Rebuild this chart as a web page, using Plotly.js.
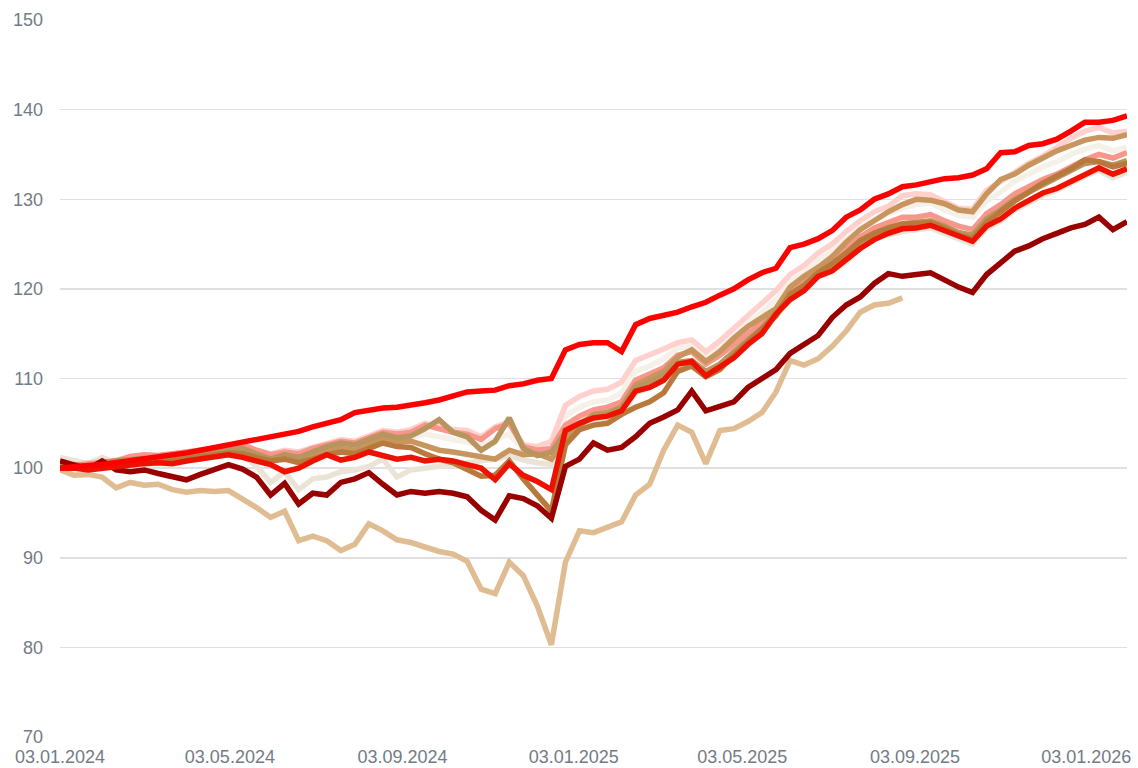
<!DOCTYPE html>
<html>
<head>
<meta charset="utf-8">
<script src="https://cdn.plot.ly/plotly-3.0.1.min.js"></script>
<style>
  html, body { margin: 0; padding: 0; background: #ffffff; }
  #chart { width: 1138px; height: 768px; }
</style>
</head>
<body>
<div id="chart"></div>
<script>
// Dates (10-day sampling)
const dates = [
  "2024-01-03","2024-01-13","2024-01-23","2024-02-02","2024-02-12","2024-02-22","2024-03-03","2024-03-13","2024-03-23","2024-04-02",
  "2024-04-12","2024-04-22","2024-05-02","2024-05-12","2024-05-22","2024-06-01","2024-06-11","2024-06-21","2024-07-01","2024-07-11",
  "2024-07-21","2024-07-31","2024-08-10","2024-08-20","2024-08-30","2024-09-09","2024-09-19","2024-09-29","2024-10-09","2024-10-19",
  "2024-10-29","2024-11-08","2024-11-18","2024-11-28","2024-12-08","2024-12-18","2024-12-28","2025-01-07","2025-01-17","2025-01-27",
  "2025-02-06","2025-02-16","2025-02-26","2025-03-08","2025-03-18","2025-03-28","2025-04-07","2025-04-17","2025-04-27","2025-05-07",
  "2025-05-17","2025-05-27","2025-06-06","2025-06-16","2025-06-26","2025-07-06","2025-07-16","2025-07-26","2025-08-05","2025-08-15",
  "2025-08-25","2025-09-04","2025-09-14","2025-09-24","2025-10-04","2025-10-14","2025-10-24","2025-11-03","2025-11-13","2025-11-23",
  "2025-12-03","2025-12-13","2025-12-23","2026-01-02","2026-01-12","2026-01-22","2026-02-01"
];

const redTop = [
  100.0,100.2,100.3,100.4,100.6,100.8,101.0,101.2,101.4,101.7,
  102.0,102.3,102.7,103.0,103.2,103.5,103.8,104.1,104.6,105.0,
  105.4,106.2,106.5,106.7,106.8,107.0,107.3,107.6,108.0,108.5,
  108.6,108.7,109.2,109.4,109.8,110.0,113.2,113.8,114.0,114.0,
  113.0,116.0,116.7,117.0,117.4,118.0,118.5,119.3,120.0,121.0,
  121.8,122.3,124.6,125.0,125.6,126.5,128.0,128.8,130.0,130.6,
  131.4,131.6,132.0,132.3,132.4,132.7,133.4,135.2,135.3,136.0,
  136.2,136.7,137.6,138.6,138.6,138.8,139.3
];

const redMain = [
  100.0,100.0,99.8,100.0,100.2,100.4,100.5,100.6,100.5,100.8,
  101.0,101.3,101.5,101.2,100.8,100.4,99.6,100.0,100.8,101.5,
  100.9,101.2,101.8,101.4,101.0,101.2,100.8,101.0,100.8,100.4,
  100.0,98.7,100.5,99.2,98.5,97.6,104.2,105.0,105.6,105.8,
  106.4,108.6,109.0,109.8,111.6,111.9,110.3,111.3,112.3,113.8,
  115.0,117.2,118.8,119.8,121.4,122.0,123.2,124.5,125.5,126.2,
  126.7,126.8,127.1,126.5,125.8,125.3,127.0,127.8,129.0,129.8,
  130.7,131.2,132.0,132.8,133.5,132.8,133.4
];

const maroon = [
  100.8,100.4,99.9,100.8,99.8,99.6,99.8,99.4,99.0,98.7,
  99.3,99.9,100.4,99.9,99.0,97.0,98.3,96.0,97.2,97.0,
  98.4,98.8,99.5,98.2,97.0,97.4,97.2,97.4,97.2,96.8,
  95.3,94.2,96.9,96.6,95.8,94.4,100.2,101.0,102.8,102.0,
  102.3,103.5,105.0,105.7,106.5,108.6,106.4,106.9,107.4,109.0,
  110.0,111.0,112.8,113.8,114.8,116.8,118.2,119.1,120.6,121.7,
  121.4,121.6,121.8,121.0,120.2,119.6,121.6,122.9,124.2,124.8,
  125.6,126.2,126.8,127.2,128.0,126.6,127.5
];

const tan = [
  99.8,99.2,99.3,99.0,97.8,98.4,98.1,98.2,97.6,97.3,
  97.5,97.4,97.5,96.6,95.6,94.5,95.2,91.9,92.4,91.9,
  90.8,91.5,93.8,93.0,92.0,91.7,91.2,90.7,90.4,89.6,
  86.5,86.0,89.5,88.0,84.6,80.3,89.5,93.0,92.8,93.4,
  94.0,97.0,98.2,102.0,104.8,104.0,100.5,104.2,104.4,105.2,
  106.2,108.5,112.0,111.5,112.2,113.6,115.3,117.4,118.2,118.4,
  119.0
];

const pink = [
  100.5,100.4,100.6,100.8,100.8,101.2,101.4,101.3,101.5,101.7,
  101.8,102.0,102.3,102.5,102.0,101.6,102.0,101.8,102.3,102.8,
  103.2,103.0,103.6,104.2,104.0,104.3,105.0,104.6,104.3,104.2,
  103.5,104.6,105.2,102.6,102.4,103.0,107.0,108.0,108.6,108.8,
  109.6,112.0,112.6,113.3,114.0,114.3,113.0,114.2,115.6,117.0,
  118.2,119.8,121.6,122.6,124.0,125.0,126.4,127.6,128.6,129.2,
  130.4,130.6,130.5,129.8,129.0,128.9,131.0,132.0,133.0,134.0,
  134.8,135.8,136.8,137.6,138.0,137.4,137.6
];

const veryLight = [
  100.3,100.5,100.4,100.7,100.9,101.0,101.2,101.1,101.3,101.5,
  101.6,101.8,102.0,102.1,101.7,101.2,101.5,101.2,101.8,102.3,
  102.6,102.5,103.0,103.4,103.2,103.4,103.8,103.5,103.2,103.0,
  102.6,103.2,103.8,102.0,101.8,102.2,105.8,106.8,107.4,107.6,
  108.4,110.8,111.4,112.2,113.4,113.6,112.4,113.6,114.8,116.2,
  117.4,118.8,120.8,121.8,123.2,124.2,125.6,126.8,127.8,128.4,
  129.0,129.4,129.6,128.8,128.2,128.0,129.8,130.8,132.0,132.8,
  133.6,134.2,135.0,135.6,136.0,135.4,135.8
];

const salmon = [
  100.4,100.3,100.5,100.7,100.8,101.3,101.5,101.4,101.6,101.8,
  101.9,102.1,102.4,102.6,102.0,101.5,101.8,101.6,102.2,102.6,
  103.0,102.8,103.4,104.0,103.8,104.0,104.8,104.4,104.0,103.8,
  103.2,104.4,105.0,102.4,102.0,102.2,104.8,105.8,106.5,106.8,
  107.4,109.8,110.5,111.2,112.6,113.0,111.6,112.6,113.8,115.0,
  116.2,117.8,119.8,120.8,122.4,123.2,124.4,125.8,126.8,127.4,
  128.0,128.0,128.3,127.6,127.0,126.6,128.4,129.4,130.6,131.4,
  132.2,132.8,133.6,134.4,135.0,134.6,135.2
];

const lightBrown = [
  100.0,100.3,100.2,100.6,100.8,100.9,101.0,101.0,101.2,101.3,
  101.5,101.7,101.9,101.8,101.4,101.0,101.2,100.8,101.2,101.8,
  102.2,102.0,102.6,103.2,103.0,103.0,102.5,102.0,101.8,101.5,
  101.2,101.0,102.0,101.5,101.6,101.0,103.4,104.8,106.0,106.2,
  106.8,109.3,110.0,110.8,112.4,113.2,111.9,113.0,114.5,115.8,
  116.8,117.8,120.2,121.4,122.4,123.6,125.2,126.6,127.6,128.6,
  129.4,130.0,129.9,129.5,128.8,128.6,130.6,132.2,132.8,133.8,
  134.6,135.4,136.0,136.6,136.9,136.8,137.2
];

const olive = [
  100.2,100.4,100.2,100.6,100.8,101.0,101.1,101.0,101.3,101.4,
  101.6,101.8,102.0,102.2,101.6,101.0,101.5,101.2,101.8,102.4,
  102.8,102.6,103.2,103.8,103.4,103.6,104.4,105.4,104.0,103.5,
  102.0,103.0,105.6,102.2,101.4,101.8,104.0,105.0,105.8,106.0,
  106.8,109.0,109.6,110.4,111.8,112.0,110.8,111.6,113.0,114.4,
  115.6,117.4,119.2,120.2,121.8,122.6,123.8,125.2,126.2,126.8,
  127.3,127.4,127.6,127.0,126.3,126.0,127.8,128.8,130.0,130.8,
  131.6,132.4,133.2,134.0,134.2,133.8,134.3
];

const copper = [
  100.0,100.2,100.1,100.4,100.6,100.7,100.8,100.8,101.0,101.1,
  101.3,101.5,101.7,101.6,101.2,100.8,101.0,100.6,101.0,101.5,
  101.8,101.6,102.2,102.8,102.4,102.3,101.6,101.0,100.6,99.8,
  99.1,99.2,100.8,98.8,97.0,95.2,102.6,104.3,104.8,105.0,
  106.0,106.8,107.4,108.4,110.8,111.4,110.2,111.0,112.6,114.0,
  115.4,117.0,119.4,120.4,121.8,122.8,124.0,125.4,126.2,126.8,
  127.2,127.3,127.4,126.8,126.0,125.6,127.4,128.6,129.8,130.8,
  131.8,132.6,133.4,134.4,134.2,133.6,134.0
];

const beige = [
  101.2,100.8,100.5,101.2,100.6,100.8,101.0,100.8,100.9,101.2,
  101.3,101.8,102.2,101.5,100.2,98.4,99.6,97.6,98.8,99.0,
  99.6,99.8,100.2,101.0,99.0,99.8,100.0,100.2,100.4,100.6,
  100.8,101.0,101.4,100.9,100.6,100.4,103.2,104.4,105.2,105.4,
  106.0,108.4,109.0,109.8,111.4,111.8,110.4,111.2,112.4,113.8,
  115.0,117.0,118.8,120.0,121.4,122.0,123.0,124.6,125.6,126.0,
  126.4,126.6,126.8,126.2,125.6,125.0,126.8,127.6,128.8,129.6,
  130.4,131.0,131.8,132.6,133.2,132.4,133.0
];

const yTicks = [70, 80, 90, 100, 110, 120, 130, 140, 150];
const xTicks = ["2024-01-03","2024-05-03","2024-09-03","2025-01-03","2025-05-03","2025-09-03","2026-01-03"];
const xTickLabels = ["03.01.2024","03.05.2024","03.09.2024","03.01.2025","03.05.2025","03.09.2025","03.01.2026"];

// Draw order: bottom first
const series = [
  {y: veryLight, color: "#f6f1e8"},
  {y: beige, color: "#ebe4d6"},
  {y: tan, color: "#e0bc92"},
  {y: pink, color: "#ffd0cc"},
  {y: salmon, color: "#f8968b"},
  {y: lightBrown, color: "#c8955e"},
  {y: olive, color: "#b8945f"},
  {y: copper, color: "#b8793c"},
  {y: maroon, color: "#990000"},
  {y: redMain, color: "#ee1100"},
  {y: redTop, color: "#ff0000"}
];

const traces = series.map(s => ({
  type: "scatter",
  mode: "lines",
  x: dates.slice(0, s.y.length),
  y: s.y,
  line: {color: s.color, width: 5.5},
  hoverinfo: "skip"
}));

const layout = {
  width: 1138,
  height: 768,
  margin: {l: 60, r: 11, t: 20, b: 31},
  paper_bgcolor: "#ffffff",
  plot_bgcolor: "#ffffff",
  showlegend: false,
  font: {family: "Liberation Sans, Arial, sans-serif", size: 18, color: "#737b86"},
  xaxis: {
    type: "date",
    range: ["2024-01-03", "2026-02-01"],
    tickmode: "array",
    tickvals: xTicks,
    ticktext: xTickLabels,
    showgrid: false,
    zeroline: false,
    showline: false,
    ticks: "",
    ticklabelstandoff: 7,
    tickfont: {size: 18, color: "#737b86"}
  },
  yaxis: {
    range: [70, 150],
    tickmode: "array",
    tickvals: yTicks,
    showgrid: true,
    gridcolor: "#e0e0e0",
    gridwidth: 1.5,
    zeroline: false,
    showline: false,
    ticks: "",
    ticklabelstandoff: 16,
    tickfont: {size: 18, color: "#737b86"}
  }
};

Plotly.newPlot("chart", traces, layout, {displayModeBar: false, staticPlot: true});
</script>
</body>
</html>
